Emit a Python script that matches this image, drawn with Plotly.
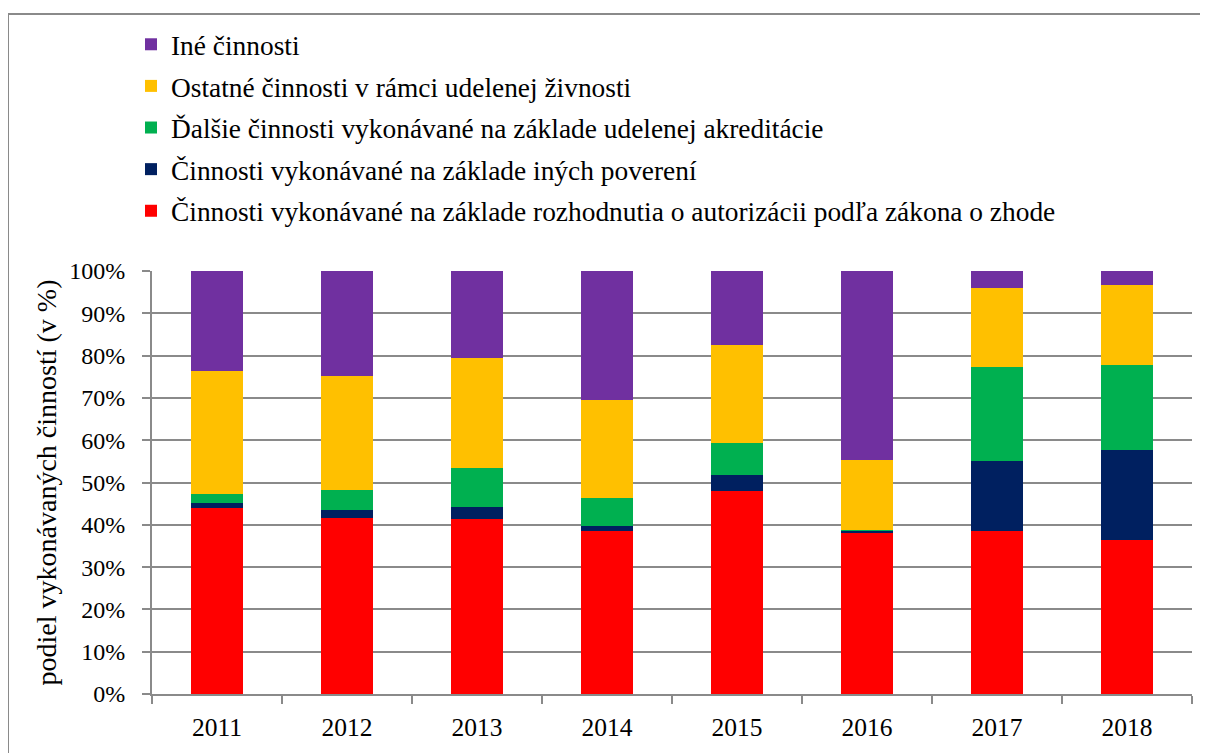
import plotly.graph_objects as go

years = ["2011", "2012", "2013", "2014", "2015", "2016", "2017", "2018"]

# shares in %
autorizacia = [44.0, 41.5, 41.4, 38.6, 47.9, 38.2, 38.6, 36.4]
ine_poverenia = [1.2, 2.1, 2.9, 1.0, 3.8, 0.4, 16.4, 21.2]
akreditacia = [2.1, 4.7, 9.1, 6.8, 7.7, 0.1, 22.2, 20.1]
zivnost = [29.1, 26.9, 26.0, 23.0, 23.0, 16.6, 18.9, 19.1]
ine = [23.6, 24.8, 20.6, 30.6, 17.6, 44.7, 3.9, 3.2]

series = [
    ("Činnosti vykonávané na základe rozhodnutia o autorizácii podľa zákona o zhode", autorizacia, "#FF0000"),
    ("Činnosti vykonávané na základe iných poverení", ine_poverenia, "#002060"),
    ("Ďalšie činnosti vykonávané na základe udelenej akreditácie", akreditacia, "#00B050"),
    ("Ostatné činnosti v rámci udelenej živnosti", zivnost, "#FFC000"),
    ("Iné činnosti", ine, "#7030A0"),
]

font = "Liberation Serif, Times New Roman, serif"
grid = "#8a8a8a"

# the page body adds an 8px margin, so the figure is 8px smaller than the window
W, H = 1200, 745
ML, MR, MT, MB = 144, 16, 262, 55

fig = go.Figure()
for i, (name, vals, color) in enumerate(series):
    fig.add_trace(go.Bar(
        x=years,
        y=vals,
        name=name,
        legendgroup=name,
        legendrank=len(series) - i,
        marker=dict(color=color, line=dict(width=0)),
    ))

plot_w = W - ML - MR
plot_h = H - MT - MB

fig.update_layout(
    width=W,
    height=H,
    barmode="stack",
    bargap=0.6,
    plot_bgcolor="white",
    paper_bgcolor="white",
    margin=dict(l=ML, r=MR, t=MT, b=MB),
    font=dict(family=font, size=24, color="black"),
    legend=dict(
        x=-21 / plot_w,
        y=1 + (262 - 8) / plot_h,
        xanchor="left",
        yanchor="top",
        traceorder="grouped",
        tracegroupgap=3,
        font=dict(size=27.4),
        bgcolor="rgba(0,0,0,0)",
    ),
    xaxis=dict(
        showline=True,
        linecolor=grid,
        linewidth=1.8,
        ticks="outside",
        tickson="boundaries",
        ticklen=8,
        tickcolor=grid,
        tickwidth=1.8,
        showgrid=False,
        tickfont=dict(size=25.5),
        ticklabelstandoff=9,
    ),
    yaxis=dict(
        range=[0, 100],
        tickvals=[0, 10, 20, 30, 40, 50, 60, 70, 80, 90, 100],
        ticktext=["0%", "10%", "20%", "30%", "40%", "50%", "60%", "70%", "80%", "90%", "100%"],
        showline=True,
        linecolor=grid,
        linewidth=1.8,
        ticks="outside",
        ticklen=8,
        tickcolor=grid,
        tickwidth=1.8,
        showgrid=True,
        gridcolor=grid,
        gridwidth=1.8,
        zeroline=False,
        ticklabelstandoff=12,
        title=dict(text="podiel vykonávaných činností (v %)", font=dict(size=28), standoff=4),
    ),
)

# outer frame of the chart
fig.add_shape(
    type="rect", xref="paper", yref="paper",
    x0=-ML / plot_w, x1=1.2, y0=-0.5, y1=1 + (MT - 2) / plot_h,
    line=dict(color=grid, width=2),
    fillcolor="rgba(0,0,0,0)",
    layer="below",
)

fig.write_html("out.html")
